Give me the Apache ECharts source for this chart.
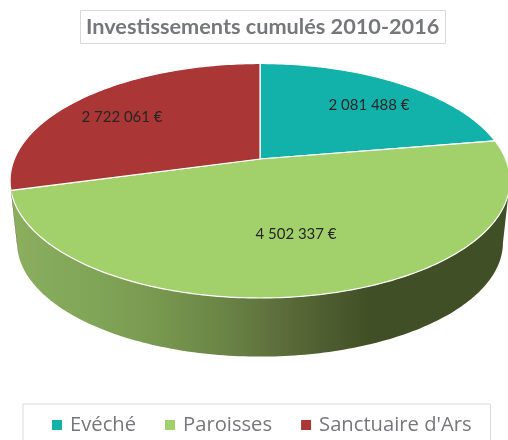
<!DOCTYPE html>
<html><head><meta charset="utf-8">
<style>html,body{margin:0;padding:0;background:#fff}#c{width:508px;height:440px}</style>
<script src="https://cdn.jsdelivr.net/npm/echarts@6/dist/echarts.min.js"></script>
</head><body><div id="c"></div>
<script>
const categories = ['Evéché', 'Paroisses', "Sanctuaire d'Ars"];
const values = [2081488, 4502337, 2722061];
const valueLabels = ['2 081 488 €', '4 502 337 €', '2 722 061 €'];
const colors = ['#12b2ab', '#a2d16c', '#aa3636'];

// Projection of the tilted disc and placement of text
const view = {cx: 260, cy: 159, a: 113.2, b: 245.6, k: 0.1855, depth: 62.5, shrink: 0.972};
const labelAnchors = [[369, 105], [296, 234], [122, 117]];
const sideStops = [
  [[0, '#0c7d78'], [1, '#0c7d78']],
  [[0, '#8aad5e'], [0.2, '#80a557'], [0.35, '#7a9950'], [0.53, '#6a8546'], [0.63, '#627640'], [0.79, '#505f30'], [0.92, '#414f26'], [1, '#414f26']],
  [[0, '#7a2626'], [1, '#7a2626']]
];

const total = values.reduce((s, v) => s + v, 0);
function project(theta, r, lower) {
  const u = Math.sin(theta) * r, v = -Math.cos(theta) * r;
  const d = 1 - view.k * v;
  const s = lower ? view.shrink : 1;
  return [view.cx + s * view.b * u / d, view.cy + (lower ? view.depth : 0) + s * view.a * v / d];
}
function arc(from, to, lower) {
  const pts = [], n = Math.max(2, Math.ceil(Math.abs(to - from) / (Math.PI / 180)));
  for (let i = 0; i <= n; i++) pts.push(project(from + (to - from) * i / n, 1, lower));
  return pts;
}
const silhouette = [Math.acos(-view.k), 2 * Math.PI - Math.acos(-view.k)];

function makeSeries(idx) {
  return {
    type: 'custom', name: categories[idx], coordinateSystem: 'none', silent: true,
    itemStyle: {color: colors[idx]},
    data: [[values[idx]]],
    renderItem: function (params, api) {
      const before = values.slice(0, idx).reduce((s, v) => s + v, 0);
      const a0 = before / total * 2 * Math.PI;
      const a1 = a0 + api.value(0) / total * 2 * Math.PI;
      const children = [];
      const s0 = Math.max(a0, silhouette[0]), s1 = Math.min(a1, silhouette[1]);
      if (s1 > s0) {
        const top = arc(s0, s1, false), bottom = arc(s1, s0, true);
        children.push({
          type: 'polygon', shape: {points: top.concat(bottom)},
          style: {fill: new echarts.graphic.LinearGradient(20, 0, 400, 0,
            sideStops[idx].map(s => ({offset: s[0], color: s[1]})), true)}
        });
      }
      children.push({
        type: 'polygon', shape: {points: [[view.cx, view.cy]].concat(arc(a0, a1, false))},
        style: {fill: colors[idx], stroke: '#ffffff', lineWidth: 1.2, lineJoin: 'round'}
      });
      children.push({
        type: 'text', z2: 50,
        style: {x: labelAnchors[idx][0], y: labelAnchors[idx][1], text: valueLabels[idx],
          fill: '#262626', font: '15px Lato', align: 'center', verticalAlign: 'middle'}
      });
      return {type: 'group', children: children};
    }
  };
}

const chart = echarts.init(document.getElementById('c'), null, {renderer: 'canvas'});
chart.setOption({
  animation: false,
  backgroundColor: '#ffffff',
  title: {
    text: 'Investissements cumulés 2010-2016', left: 80, top: 10,
    padding: [5, 6, 5, 6], borderColor: '#d9d9d9', borderWidth: 1,
    textStyle: {color: '#76777a', fontFamily: 'Lato', fontWeight: 'bold', fontSize: 21.7, lineHeight: 24}
  },
  legend: {
    left: 23, top: 404, orient: 'horizontal', icon: 'rect',
    itemWidth: 10, itemHeight: 10, itemGap: 29,
    padding: [11, 19, 30, 29], borderColor: '#d9d9d9', borderWidth: 1,
    data: categories,
    textStyle: {color: '#76777a', fontFamily: 'Open Sans', fontSize: 20.2, padding: [0, 0, 0, 3]}
  },
  series: categories.map((_, i) => makeSeries(i))
});
</script></body></html>
